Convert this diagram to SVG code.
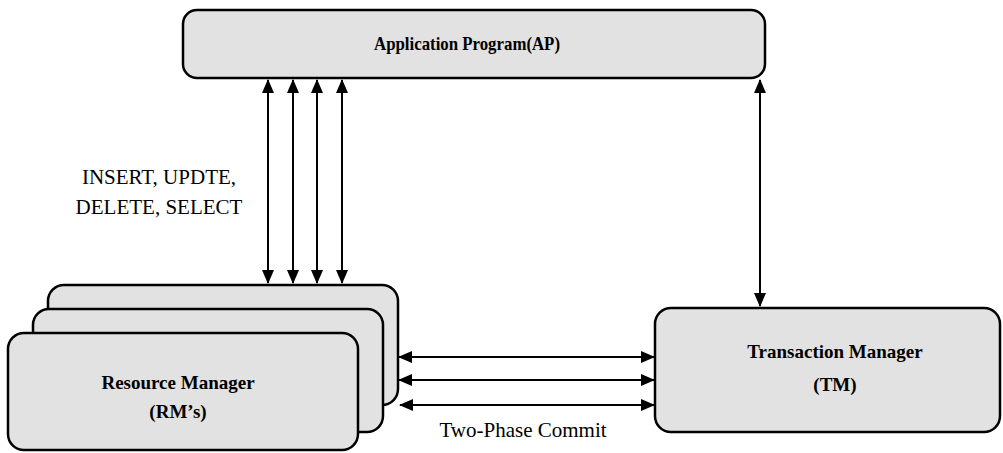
<svg xmlns="http://www.w3.org/2000/svg" width="1003" height="453" viewBox="0 0 1003 453">
<style>
.box{fill:#e2e2e2;stroke:#000;stroke-width:2.5}
.t{font-family:'Liberation Serif','DejaVu Serif',serif;fill:#000;text-anchor:middle}
.bt{font-size:19px;font-weight:bold}
.lt{font-size:21px}
.c{stroke:#000;stroke-width:2;fill:none;marker-start:url(#ah);marker-end:url(#ah)}
</style>
<defs>
<marker id="ah" viewBox="0 0 14 12" refX="13" refY="6" markerWidth="14" markerHeight="12" markerUnits="userSpaceOnUse" orient="auto-start-reverse">
<path d="M0,0 L14,6 L0,12 Z" fill="#000"/>
</marker>
</defs>
<g id="ap">
<rect class="box" x="183" y="10" width="582" height="68" rx="14"/>
<text class="t bt" x="467" y="50" textLength="186" lengthAdjust="spacingAndGlyphs">Application Program(AP)</text>
</g>
<g id="rm">
<rect class="box" x="48" y="285" width="350" height="120" rx="16"/>
<rect class="box" x="33" y="309" width="350" height="123" rx="16"/>
<rect class="box" x="8" y="333" width="350" height="117" rx="16"/>
<text class="t bt" x="178" y="389">Resource Manager</text>
<text class="t bt" x="178" y="418">(RM’s)</text>
</g>
<g id="tm">
<rect class="box" x="655" y="308" width="345" height="124" rx="16"/>
<text class="t bt" x="835" y="358">Transaction Manager</text>
<text class="t bt" x="835" y="391">(TM)</text>
</g>
<g id="connectors">
<line class="c" x1="268" y1="80" x2="268" y2="283"/>
<line class="c" x1="293" y1="80" x2="293" y2="283"/>
<line class="c" x1="317" y1="80" x2="317" y2="283"/>
<line class="c" x1="342" y1="80" x2="342" y2="283"/>
<line class="c" x1="760" y1="80" x2="760" y2="306"/>
<line class="c" x1="399" y1="357" x2="654" y2="357"/>
<line class="c" x1="399" y1="380" x2="654" y2="380"/>
<line class="c" x1="400" y1="405" x2="654" y2="405"/>
</g>
<g id="labels">
<text class="t lt" x="159" y="184">INSERT, UPDTE,</text>
<text class="t lt" x="159" y="214">DELETE, SELECT</text>
<text class="t lt" x="523" y="437">Two-Phase Commit</text>
</g>
</svg>
